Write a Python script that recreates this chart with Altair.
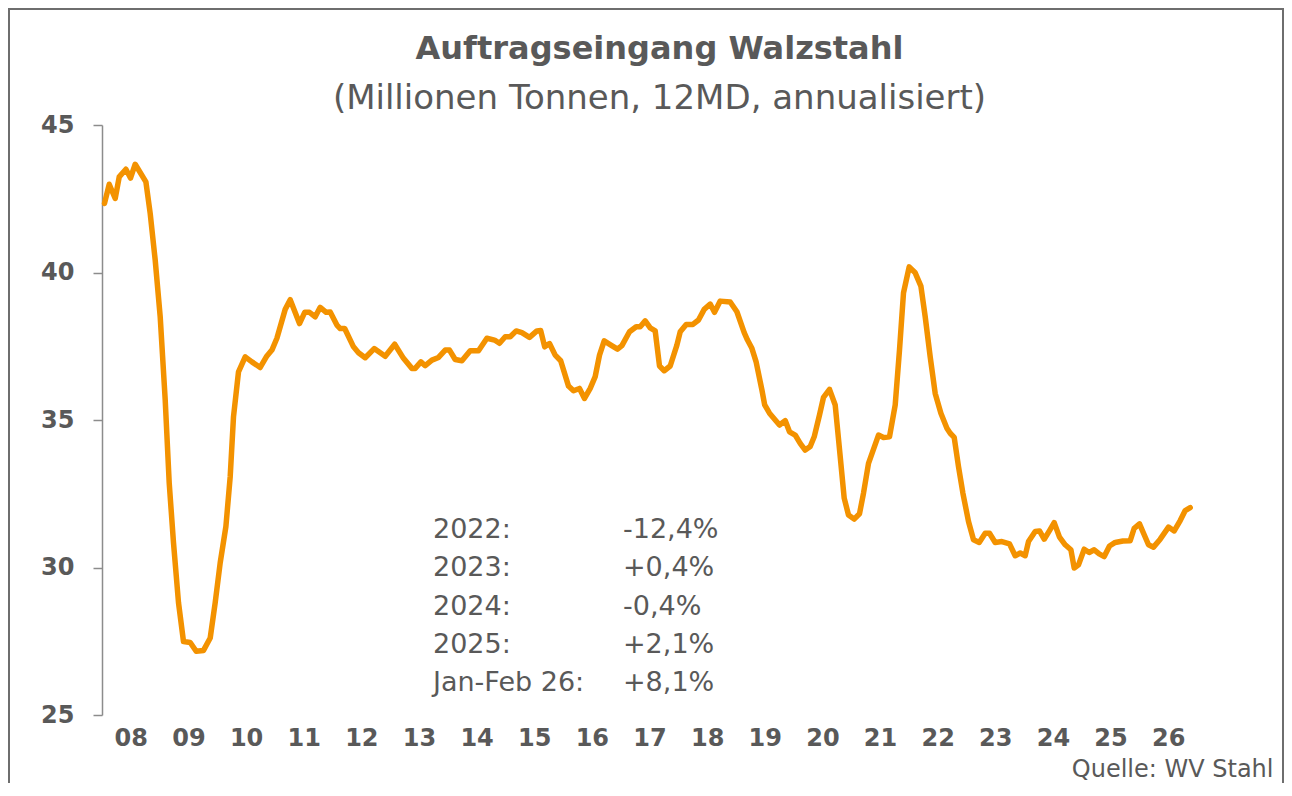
import altair as alt
import pandas as pd

# month index (0 = Jan 2008) and value (Mio t)
months = [0.0, 0.94, 2.14, 2.94, 4.28, 5.2, 6.14, 8.28, 9.14, 10.14, 11.14, 12.14, 12.94, 13.8, 14.8, 15.8,
          17.14, 18.34, 19.8, 21.14, 22.14, 23.14, 24.28, 25.14, 25.8, 26.8, 28.14, 29.48, 31.14, 32.48, 33.48,
          34.48, 36.14, 37.14, 39.0, 40.04, 41.0, 42.14, 43.14, 44.34, 45.14, 46.48, 47.14, 48.04, 49.8, 50.8,
          52.14, 53.94, 56.14, 58.04, 59.8, 61.48, 62.14, 63.28, 64.14, 65.48, 66.8, 68.14, 69.0, 70.14, 71.48,
          73.14, 74.8, 76.48, 78.0, 79.0, 80.14, 81.14, 82.34, 83.48, 85.0, 86.48, 87.24, 88.04, 89.0, 90.14,
          91.24, 92.8, 93.8, 95.0, 96.0, 97.14, 98.14, 99.0, 99.94, 101.28, 102.6, 103.48, 105.0, 106.34, 107.14,
          108.14, 109.14, 110.14, 111.0, 111.94, 113.14, 114.48, 115.14, 116.34, 117.68, 118.8, 119.94, 121.14,
          122.0, 123.14, 125.14, 126.48, 127.94, 128.6, 129.48, 130.34, 131.48, 132.04, 133.0, 135.0, 136.14,
          137.0, 138.14, 139.14, 140.14, 141.14, 141.94, 143.0, 143.8, 145.0, 146.14, 147.14, 147.94, 148.8,
          149.94, 151.0, 151.8, 152.8, 154.8, 155.8, 157.0, 158.14, 159.0, 159.8, 160.94, 162.14, 163.28, 164.14,
          165.14, 166.14, 167.28, 168.48, 169.14, 169.94, 170.8, 171.68, 172.8, 173.8, 174.94, 176.14, 177.0,
          178.14, 179.48, 181.0, 182.14, 183.14, 184.14, 184.8, 186.14, 187.0, 187.94, 189.0, 189.94, 191.0,
          192.14, 193.28, 193.94, 194.8, 195.94, 196.94, 197.94, 198.94, 199.94, 201.0, 202.14, 203.68, 205.14,
          205.94, 207.0, 207.94, 208.8, 209.8, 211.14, 212.8, 213.94, 215.14, 216.14, 217.14]
values = [42.34, 42.99, 42.51, 43.24, 43.50, 43.20, 43.67, 43.07, 42.00, 40.42, 38.50, 35.68, 32.87, 30.84,
          28.81, 27.49, 27.46, 27.16, 27.19, 27.61, 28.81, 30.16, 31.39, 33.08, 35.11, 36.63, 37.14, 36.97,
          36.78, 37.17, 37.37, 37.77, 38.75, 39.08, 38.27, 38.65, 38.65, 38.50, 38.82, 38.65, 38.66, 38.22,
          38.10, 38.10, 37.48, 37.28, 37.11, 37.42, 37.16, 37.57, 37.09, 36.75, 36.75, 36.97, 36.84, 37.03,
          37.12, 37.37, 37.37, 37.05, 37.01, 37.35, 37.35, 37.77, 37.71, 37.60, 37.82, 37.82, 38.02, 37.96,
          37.80, 38.02, 38.03, 37.48, 37.59, 37.20, 37.01, 36.15, 35.99, 36.07, 35.73, 36.07, 36.47, 37.20,
          37.68, 37.54, 37.40, 37.52, 37.99, 38.16, 38.16, 38.36, 38.12, 38.02, 36.83, 36.67, 36.83, 37.54,
          37.99, 38.24, 38.24, 38.39, 38.75, 38.93, 38.65, 39.03, 39.00, 38.67, 37.96, 37.71, 37.43, 36.96,
          36.02, 35.51, 35.23, 34.83, 34.98, 34.60, 34.49, 34.21, 33.98, 34.10, 34.43, 35.17, 35.77, 36.04,
          35.51, 33.76, 32.35, 31.78, 31.64, 31.82, 32.52, 33.53, 34.49, 34.41, 34.43, 35.51, 37.37, 39.31,
          40.19, 39.99, 39.54, 38.50, 37.14, 35.90, 35.23, 34.72, 34.55, 34.41, 33.42, 32.52, 31.56, 30.94,
          30.85, 31.16, 31.16, 30.85, 30.88, 30.80, 30.40, 30.49, 30.40, 30.88, 31.22, 31.24, 30.96, 31.25,
          31.52, 31.03, 30.77, 30.60, 29.98, 30.09, 30.62, 30.51, 30.60, 30.46, 30.37, 30.73, 30.85, 30.90,
          30.91, 31.33, 31.48, 31.11, 30.77, 30.69, 30.96, 31.37, 31.24, 31.59, 31.93, 32.03]

year_labels = ["08", "09", "10", "11", "12", "13", "14", "15", "16", "17", "18", "19", "20", "21",
               "22", "23", "24", "25", "26"]
y_ticks = [25, 30, 35, 40, 45]

ann_labels = ["2022:", "2023:", "2024:", "2025:", "Jan-Feb 26:"]
ann_values = ["-12,4%", "+0,4%", "-0,4%", "+2,1%", "+8,1%"]

TITLE = "Auftragseingang Walzstahl"
SUBTITLE = "(Millionen Tonnen, 12MD, annualisiert)"
SOURCE = "Quelle: WV Stahl"

FONT = "DejaVu Sans"
TEXT = "#595959"
ORANGE = "#F39200"
AXIS_GREY = "#8c8c8c"

X_MIN, X_MAX = -0.5, 218.5
N = len(year_labels)
tick_pos = [X_MIN + (k + 0.5) * (X_MAX - X_MIN) / N for k in range(N)]
label_expr = ("[" + ",".join(f"'{l}'" for l in year_labels) + "]"
              f"[round((datum.value - ({X_MIN})) * {N} / {X_MAX - X_MIN} - 0.5)]")

df = pd.DataFrame({"m": months, "v": values})

xscale = alt.Scale(domain=[X_MIN, X_MAX], nice=False, zero=False)
yscale = alt.Scale(domain=[25, 45], nice=False, zero=False)

line = alt.Chart(df).mark_line(color=ORANGE, strokeWidth=5.5, strokeJoin="round", strokeCap="round").encode(
    x=alt.X("m:Q", scale=xscale,
            axis=alt.Axis(values=tick_pos, labelExpr=label_expr, domain=False, ticks=False, grid=False,
                          labelFont=FONT, labelFontSize=24, labelFontWeight="bold", labelColor=TEXT,
                          labelPadding=11, labelOverlap=False, labelFlush=False,
                          title=SOURCE, titleFont=FONT, titleFontSize=24, titleFontWeight="normal",
                          titleColor=TEXT, titleAlign="right", titleAnchor="end", titleBaseline="alphabetic",
                          titleX=1171, titleY=61)),
    y=alt.Y("v:Q", scale=yscale,
            axis=alt.Axis(values=y_ticks, grid=False, domainColor=AXIS_GREY, domainWidth=1.5,
                          tickColor=AXIS_GREY, tickWidth=1.5, tickSize=9,
                          labelFont=FONT, labelFontSize=24, labelFontWeight="bold", labelColor=TEXT,
                          labelPadding=19, title=None)),
)

ann_df = pd.DataFrame({
    "x": [65.7, 103.7],
    "y": [31.0, 31.0],
    "t": ["\n".join(ann_labels), "\n".join(ann_values)],
})
ann = alt.Chart(ann_df).mark_text(align="left", baseline="alphabetic", lineBreak="\n", lineHeight=38.25,
                                  font=FONT, fontSize=27, color=TEXT).encode(
    x=alt.X("x:Q", scale=xscale), y=alt.Y("y:Q", scale=yscale), text="t:N")

border = alt.Chart(alt.Data(values=[{}])).mark_rect(filled=False, color="#6e6e6e", strokeWidth=2).encode(
    x=alt.value(-93), x2=alt.value(1181), y=alt.value(-116), y2=alt.value(720))

chart = alt.layer(border, line, ann).properties(
    width=1095, height=590,
    padding={"left": 94, "top": 117, "right": 87, "bottom": 68},
    autosize=alt.AutoSizeParams(type="none"),
    title=alt.TitleParams(text=TITLE, subtitle=SUBTITLE, font=FONT, fontSize=32, fontWeight="bold",
                          color=TEXT, subtitleFont=FONT, subtitleFontSize=34, subtitleColor=TEXT,
                          subtitleFontWeight="normal", anchor="middle", dx=10, offset=-109,
                          subtitlePadding=16),
).configure_view(stroke=None)

chart.save("out.html", embed_options={"renderer": "svg", "actions": False})
